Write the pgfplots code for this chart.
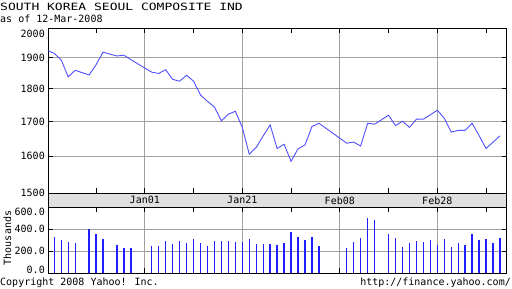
\documentclass[border=0pt]{standalone}
\usepackage{pgfplots}
\pgfplotsset{compat=1.18}
\usepackage{fontspec}
\setmainfont{DejaVu Sans Mono}
\newfontfamily\titlefont[FakeStretch=1.3]{DejaVu Sans Mono}
\definecolor{priceblue}{RGB}{80,80,255}
\definecolor{volblue}{RGB}{30,30,255}
\definecolor{gridgray}{RGB}{160,160,160}
\definecolor{bandgray}{RGB}{224,224,224}
\newcommand{\tf}{\fontsize{10bp}{12bp}\selectfont}

\pgfplotstableread{
idx val
0 1925
1 1915
2 1893
3 1838
4 1859
6 1844
7 1877
8 1919
10 1906
11 1909
12 1894
15 1853
16 1849
17 1861
18 1830
19 1824
20 1843
21 1824
22 1781
23 1761
24 1744
25 1702
26 1722
27 1731
28 1683
29 1606
30 1625
31 1658
32 1690
33 1622
34 1634
35 1586
36 1621
37 1632
38 1685
39 1695
43 1637
44 1640
45 1629
46 1695
47 1692
49 1719
50 1688
51 1701
52 1683
53 1707
54 1707
55 1720
56 1734
57 1710
58 1669
59 1674
60 1674
61 1695
62 1659
63 1622
64 1640
65 1658
}\pricetable

\pgfplotstableread{
idx vol
1 333
2 303
3 285
4 278
6 403
7 360
8 312
10 257
11 233
12 233
15 248
16 248
17 294
18 266
19 294
20 278
21 312
22 278
23 251
24 294
25 294
26 294
27 285
28 285
29 312
30 266
31 266
32 266
33 257
34 275
35 375
36 330
37 303
38 330
39 248
43 230
44 285
45 321
46 503
47 485
49 357
50 321
51 239
52 275
53 294
54 285
55 303
56 257
57 312
58 239
59 275
60 257
61 357
62 303
63 312
64 275
65 321
}\voltable

\begin{document}
\begin{tikzpicture}[x=1bp,y=1bp]
\useasboundingbox (0,0) rectangle (512,288);
\pgfplotsset{
 yahoo/.style={
  scale only axis, width=458.4bp, xmin=0.144, xmax=65.97,
  axis line style={line width=1bp, black},
  tick style={line width=1bp, black},
  major tick length=5bp, minor tick length=5bp,
  grid style={line width=1bp, gridgray},
  tick label style={font=\tf},
  anchor=south west,
 }}
\begin{axis}[yahoo, at={(48.3bp,94.7bp)}, height=164.8bp,
 ymode=log, ymin=1500, ymax=2000,
 ytick={1500,1600,1700,1800,1900,2000},
 yticklabels={1500,1600,1700,1800,1900,\raisebox{-8.65bp}[0pt][0pt]{2000}},
 minor y tick num=0,
 xtick={14,28,42,56}, xticklabel={\relax}, minor xtick={7,21,35,49,63},
 xmajorgrids, ymajorgrids]
\addplot[priceblue, line width=0.9bp, no markers] table[x=idx,y=val] {\pricetable};
\end{axis}
\begin{axis}[yahoo, at={(48.3bp,80.7bp)}, height=14bp,
 ymin=0, ymax=1, ytick=\empty,
 xtick={14,28,42,56}, xticklabels={Jan01,Jan21,Feb08,Feb28},
 major tick length=0bp,
 axis background/.style={fill=bandgray},
 xticklabel style={anchor=center, yshift=7bp}]
\end{axis}
\begin{axis}[yahoo, at={(48.3bp,14.7bp)}, height=66bp,
 ymin=0, ymax=600,
 ytick={0,200,400,600},
 yticklabels={\raisebox{-0.65bp}[0pt][0pt]{0.0},200.0,400.0,\raisebox{-8.65bp}[0pt][0pt]{600.0}},
 xtick={14,28,42,56}, xticklabel={\relax}, minor xtick={7,21,35,49,63},
 xmajorgrids, ymajorgrids]
\addplot[ycomb, volblue, line width=1.3bp, no markers] table[x=idx,y=vol] {\voltable};
\end{axis}
\node[anchor=base west, inner sep=0] at (0,277.3) {\titlefont\tf SOUTH KOREA SEOUL COMPOSITE IND};
\node[anchor=base west, inner sep=0] at (0,265.3) {\tf as of 12-Mar-2008};
\node[anchor=base west, inner sep=0] at (0,3) {\tf Copyright 2008 Yahoo! Inc.};
\node[anchor=base east, inner sep=0] at (511,3) {\tf http://finance.yahoo.com/};
\node[rotate=90, inner sep=0] at (7.5,50) {\tf Thousands};
\end{tikzpicture}
\end{document}
